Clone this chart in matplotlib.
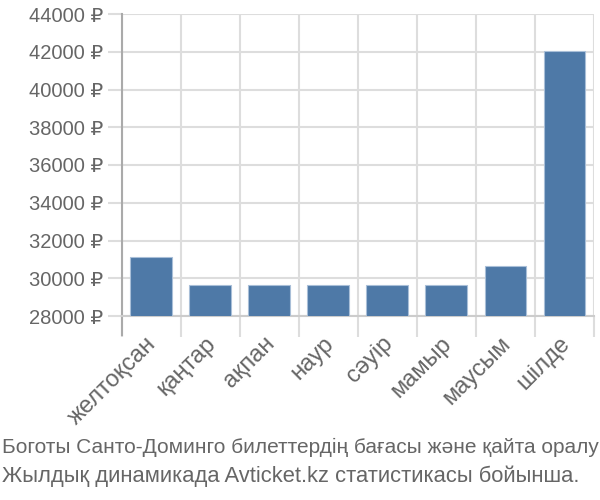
import numpy as np
import matplotlib

matplotlib.use('Agg')
from matplotlib import pyplot as plt
from matplotlib.transforms import ScaledTranslation

# monthly ticket prices (RUB)
months = ['желтоқсан', 'қаңтар', 'ақпан', 'наур', 'сәуір', 'мамыр', 'маусым', 'шілде']
prices = [31100, 29650, 29650, 29650, 29650, 29650, 30650, 42050]
y_ticks = [28000, 30000, 32000, 34000, 36000, 38000, 40000, 42000, 44000]
caption = ['Боготы Санто-Доминго билеттердің бағасы және қайта оралу',
           'Жылдық динамикада Avticket.kz статистикасы бойынша.']

plt.rcParams['font.family'] = ['Liberation Sans', 'DejaVu Sans']
text_color = '#666666'
grid_color = '#dddddd'

fig = plt.figure(figsize=(6, 5), dpi=100)
ax = fig.add_axes([0.203, 0.368, 0.787, 0.604])

x = np.arange(len(months))
ax.bar(x, prices, width=0.71, bottom=0, color='#4e79a7', edgecolor='#a9bfd8',
       linewidth=0.8, zorder=3)

ax.set_ylim(y_ticks[0], y_ticks[-1])
ax.set_xlim(-0.5, len(months) - 0.5)
ax.set_yticks(y_ticks)
ax.set_yticklabels([f'{v} ₽' for v in y_ticks], color=text_color, fontsize=14.5)
ax.set_xticks(x)
ax.set_xticklabels(months, rotation=45, ha='right', rotation_mode='anchor',
                   color=text_color, fontsize=17)
ax.tick_params(axis='x', length=0, pad=12)
ax.tick_params(axis='y', length=10, color=grid_color, width=1.5, pad=3)
# nudge month labels a little to the left
shift = ScaledTranslation(-6 / 100, 0, fig.dpi_scale_trans)
for lbl in ax.get_xticklabels():
    lbl.set_transform(lbl.get_transform() + shift)

# category boundaries as minor ticks / vertical grid
ax.set_xticks(np.arange(-0.5, len(months)), minor=True)
ax.tick_params(axis='x', which='minor', length=15, color=grid_color, width=1.5)
ax.grid(True, axis='y', color=grid_color, linewidth=1.5, zorder=0)
ax.grid(True, axis='x', which='minor', color=grid_color, linewidth=1.5, zorder=0)

for s in ['top', 'right']:
    ax.spines[s].set_visible(False)
ax.spines['bottom'].set_color('#cccccc')
ax.spines['bottom'].set_linewidth(1.5)
ax.spines['left'].set_color('#aaaaaa')
ax.spines['left'].set_linewidth(1.5)
ax.spines['left'].set_bounds(27000, 44000)

narrow = ['Liberation Sans Narrow', 'Liberation Sans', 'DejaVu Sans']
fig.text(0.003, 0.094, caption[0], color=text_color, fontsize=15, family=narrow,
         va='baseline')
fig.text(0.003, 0.036, caption[1], color=text_color, fontsize=15.8, family=narrow,
         va='baseline')

fig.savefig('out.png', dpi=100)
